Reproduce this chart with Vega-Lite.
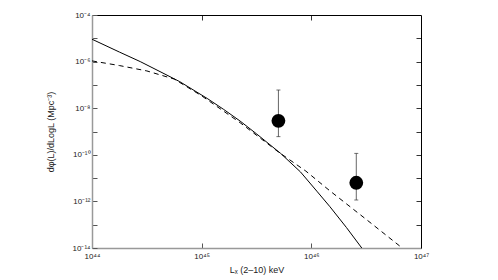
{
  "$schema": "https://vega.github.io/schema/vega-lite/v6.json",
  "width": 329,
  "height": 233,
  "autosize": "none",
  "padding": {"left": 92, "top": 15, "right": 77, "bottom": 32},
  "background": "white",
  "config": {
    "view": {"stroke": null},
    "axis": {
      "grid": false,
      "labelFont": "Liberation Sans",
      "titleFont": "Liberation Sans",
      "labelFontSize": 8,
      "titleFontSize": 9,
      "titleFontWeight": "normal",
      "labelColor": "#222",
      "titleColor": "#222",
      "tickSize": -5,
      "tickColor": "#555",
      "labelPadding": 7
    }
  },
  "datasets": {
    "solid": [
      {"L": 1e44, "phi": 9.12e-6},
      {"L": 1.778e44, "phi": 2.57e-6},
      {"L": 2.754e44, "phi": 1.0e-6},
      {"L": 4.17e44, "phi": 3.72e-7},
      {"L": 6.31e44, "phi": 1.38e-7},
      {"L": 1.122e45, "phi": 2.63e-8},
      {"L": 1.585e45, "phi": 8.91e-9},
      {"L": 2.239e45, "phi": 2.82e-9},
      {"L": 3.162e45, "phi": 7.94e-10},
      {"L": 5.248e45, "phi": 1.148e-10},
      {"L": 7.943e45, "phi": 1.862e-11},
      {"L": 1.122e46, "phi": 2.75e-12},
      {"L": 1.479e46, "phi": 5.89e-13},
      {"L": 2.089e46, "phi": 7.59e-14},
      {"L": 2.884e46, "phi": 1.0e-14}
    ],
    "dashed": [
      {"L": 1e44, "phi": 1.072e-6},
      {"L": 1.778e44, "phi": 6.76e-7},
      {"L": 3.162e44, "phi": 3.98e-7},
      {"L": 5.623e44, "phi": 1.778e-7},
      {"L": 1e45, "phi": 3.39e-8},
      {"L": 2.239e45, "phi": 2.40e-9},
      {"L": 5.012e45, "phi": 1.318e-10},
      {"L": 8.913e45, "phi": 2.0e-11},
      {"L": 1.479e46, "phi": 2.82e-12},
      {"L": 3.162e46, "phi": 1.698e-13},
      {"L": 6.457e46, "phi": 1.175e-14}
    ],
    "pts": [
      {"L": 5.01e45, "phi": 2.88e-9, "lo": 6.03e-10, "hi": 6.03e-8},
      {"L": 2.57e46, "phi": 6.31e-12, "lo": 1.148e-12, "hi": 1.148e-10}
    ]
  },
  "layer": [
    {
      "data": {"name": "solid"},
      "mark": {"type": "line", "color": "black", "strokeWidth": 1},
      "encoding": {
        "x": {
          "field": "L", "type": "quantitative",
          "scale": {"type": "log", "domain": [1e44, 1e47], "nice": false},
          "axis": {
            "orient": "bottom",
            "values": [1e44, 1e45, 1e46, 1e47],
            "labelExpr": "round(log(datum.value)/LN10)==44?'10⁴⁴':round(log(datum.value)/LN10)==45?'10⁴⁵':round(log(datum.value)/LN10)==46?'10⁴⁶':'10⁴⁷'",
            "title": "Lₓ (2–10) keV",
            "titlePadding": 5,
            "labelPadding": 9,
            "domainColor": "#999",
            "domainWidth": 1.5,
            "labelFlush": false
          }
        },
        "y": {
          "field": "phi", "type": "quantitative",
          "scale": {"type": "log", "domain": [1e-14, 1e-4], "nice": false},
          "axis": {
            "orient": "left",
            "values": [1e-14, 1e-13, 1e-12, 1e-11, 1e-10, 1e-9, 1e-8, 1e-7, 1e-6, 1e-5, 1e-4],
            "labelExpr": "round(log(datum.value)/LN10)==-4?'10⁻⁴':round(log(datum.value)/LN10)==-6?'10⁻⁶':round(log(datum.value)/LN10)==-8?'10⁻⁸':round(log(datum.value)/LN10)==-10?'10⁻¹⁰':round(log(datum.value)/LN10)==-12?'10⁻¹²':round(log(datum.value)/LN10)==-14?'10⁻¹⁴':''",
            "title": "dφ(L)/dLogL (Mpc⁻³)",
            "titlePadding": 17,
            "domainColor": "#999",
            "domainWidth": 1.5,
            "labelFlush": false
          }
        }
      }
    },
    {
      "data": {"name": "dashed"},
      "mark": {"type": "line", "color": "black", "strokeWidth": 1, "strokeDash": [5, 4]},
      "encoding": {
        "x": {
          "field": "L", "type": "quantitative",
          "axis": {
            "orient": "top",
            "values": [1e45, 1e46],
            "labels": false,
            "title": null,
            "domainColor": "black",
            "domainWidth": 1,
            "tickColor": "#333"
          }
        },
        "y": {
          "field": "phi", "type": "quantitative",
          "axis": {
            "orient": "right",
            "values": [1e-13, 1e-12, 1e-11, 1e-10, 1e-9, 1e-8, 1e-7, 1e-6, 1e-5],
            "labels": false,
            "title": null,
            "domainColor": "black",
            "domainWidth": 1,
            "tickColor": "#333"
          }
        }
      }
    },
    {
      "data": {"name": "pts"},
      "mark": {"type": "rule", "color": "#666", "strokeWidth": 1},
      "encoding": {
        "x": {"field": "L", "type": "quantitative", "axis": null},
        "y": {"field": "lo", "type": "quantitative", "axis": null},
        "y2": {"field": "hi"}
      }
    },
    {
      "data": {"name": "pts"},
      "mark": {"type": "tick", "orient": "horizontal", "color": "#333", "size": 4, "thickness": 1},
      "encoding": {
        "x": {"field": "L", "type": "quantitative", "axis": null},
        "y": {"field": "lo", "type": "quantitative", "axis": null}
      }
    },
    {
      "data": {"name": "pts"},
      "mark": {"type": "tick", "orient": "horizontal", "color": "#333", "size": 4, "thickness": 1},
      "encoding": {
        "x": {"field": "L", "type": "quantitative", "axis": null},
        "y": {"field": "hi", "type": "quantitative", "axis": null}
      }
    },
    {
      "data": {"name": "pts"},
      "mark": {"type": "point", "filled": true, "color": "black", "opacity": 1, "size": 190},
      "encoding": {
        "x": {"field": "L", "type": "quantitative", "axis": null},
        "y": {"field": "phi", "type": "quantitative", "axis": null}
      }
    }
  ],
  "resolve": {"axis": {"x": "independent", "y": "independent"}}
}
